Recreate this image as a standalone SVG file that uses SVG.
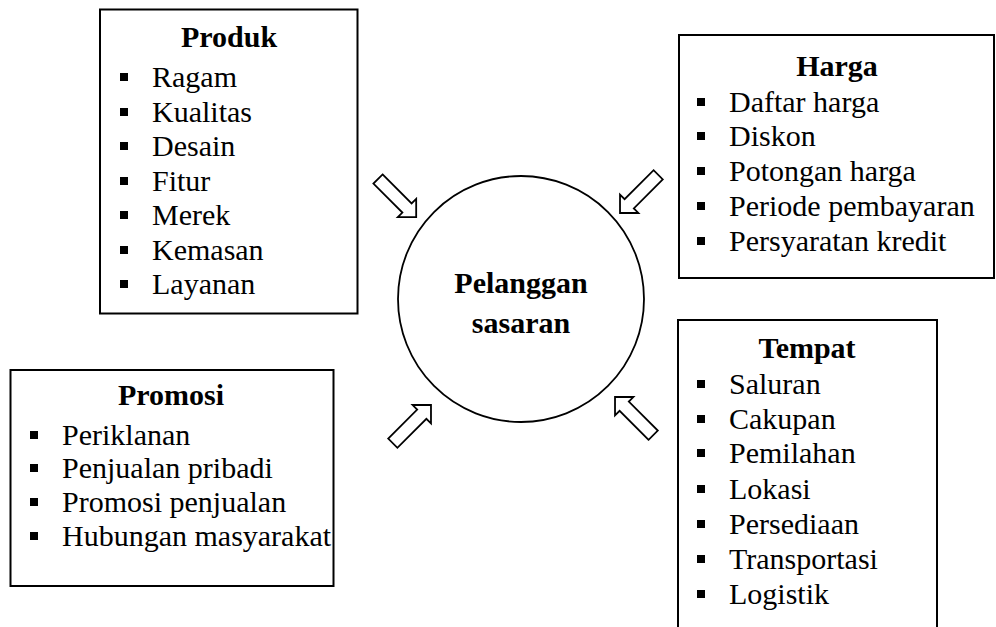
<svg xmlns="http://www.w3.org/2000/svg" width="996" height="627" viewBox="0 0 996 627">
<style>
.box{fill:#fff;stroke:#000;stroke-width:2}
.t{font-family:"Liberation Serif","Times New Roman",serif;font-size:30px;fill:#000}
.b{font-weight:bold;text-anchor:middle}
.arr{fill:#fff;stroke:#000;stroke-width:1.8;stroke-linejoin:miter}
</style>
<defs>
<rect id="bul" width="8" height="8" fill="#000"/>
<path id="arrow" d="M0,-6.5 L41,-6.5 L41,-13 L54,0 L41,13 L41,6.5 L0,6.5 Z"/>
</defs>
<rect width="996" height="627" fill="#fff"/>

<g id="produk">
<rect class="box" x="100" y="9.5" width="257.5" height="304"/>
<text class="t b" x="229" y="47">Produk</text>
<use href="#bul" x="120" y="73"/><text class="t" x="152" y="87">Ragam</text>
<use href="#bul" x="120" y="108"/><text class="t" x="152" y="122">Kualitas</text>
<use href="#bul" x="120" y="142"/><text class="t" x="152" y="156">Desain</text>
<use href="#bul" x="120" y="177"/><text class="t" x="152" y="191">Fitur</text>
<use href="#bul" x="120" y="211"/><text class="t" x="152" y="225">Merek</text>
<use href="#bul" x="120" y="246"/><text class="t" x="152" y="260">Kemasan</text>
<use href="#bul" x="120" y="280"/><text class="t" x="152" y="294">Layanan</text>
</g>

<g id="harga">
<rect class="box" x="679" y="35" width="315" height="243"/>
<text class="t b" x="837" y="76">Harga</text>
<use href="#bul" x="697" y="98"/><text class="t" x="729" y="112">Daftar harga</text>
<use href="#bul" x="697" y="132"/><text class="t" x="729" y="146">Diskon</text>
<use href="#bul" x="697" y="167"/><text class="t" x="729" y="181">Potongan harga</text>
<use href="#bul" x="697" y="202"/><text class="t" x="729" y="216">Periode pembayaran</text>
<use href="#bul" x="697" y="237"/><text class="t" x="729" y="251">Persyaratan kredit</text>
</g>

<g id="tempat">
<path class="box" d="M678,628 L678,320 L937,320 L937,628"/>
<text class="t b" x="807" y="358">Tempat</text>
<use href="#bul" x="697" y="380"/><text class="t" x="729" y="394">Saluran</text>
<use href="#bul" x="697" y="415"/><text class="t" x="729" y="429">Cakupan</text>
<use href="#bul" x="697" y="449"/><text class="t" x="729" y="463">Pemilahan</text>
<use href="#bul" x="697" y="485"/><text class="t" x="729" y="499">Lokasi</text>
<use href="#bul" x="697" y="520"/><text class="t" x="729" y="534">Persediaan</text>
<use href="#bul" x="697" y="555"/><text class="t" x="729" y="569">Transportasi</text>
<use href="#bul" x="697" y="590"/><text class="t" x="729" y="604">Logistik</text>
</g>

<g id="promosi">
<rect class="box" x="10.5" y="370" width="323" height="216"/>
<text class="t b" x="171" y="405">Promosi</text>
<use href="#bul" x="30" y="431"/><text class="t" x="62" y="445">Periklanan</text>
<use href="#bul" x="30" y="464"/><text class="t" x="62" y="478">Penjualan pribadi</text>
<use href="#bul" x="30" y="498"/><text class="t" x="62" y="512">Promosi penjualan</text>
<use href="#bul" x="30" y="532"/><text class="t" x="62" y="546">Hubungan masyarakat</text>
</g>

<g id="pelanggan">
<circle cx="521" cy="299" r="123" fill="#fff" stroke="#000" stroke-width="1.8"/>
<text class="t b" x="521" y="293">Pelanggan</text>
<text class="t b" x="521" y="333">sasaran</text>
</g>

<g id="connectors">
<use href="#arrow" class="arr" transform="translate(378,179) rotate(45)"/>
<use href="#arrow" class="arr" transform="translate(658.2,174.8) rotate(135)"/>
<use href="#arrow" class="arr" transform="translate(392.8,443.2) rotate(-45)"/>
<use href="#arrow" class="arr" transform="translate(653.2,435.2) rotate(-135)"/>
</g>
</svg>
